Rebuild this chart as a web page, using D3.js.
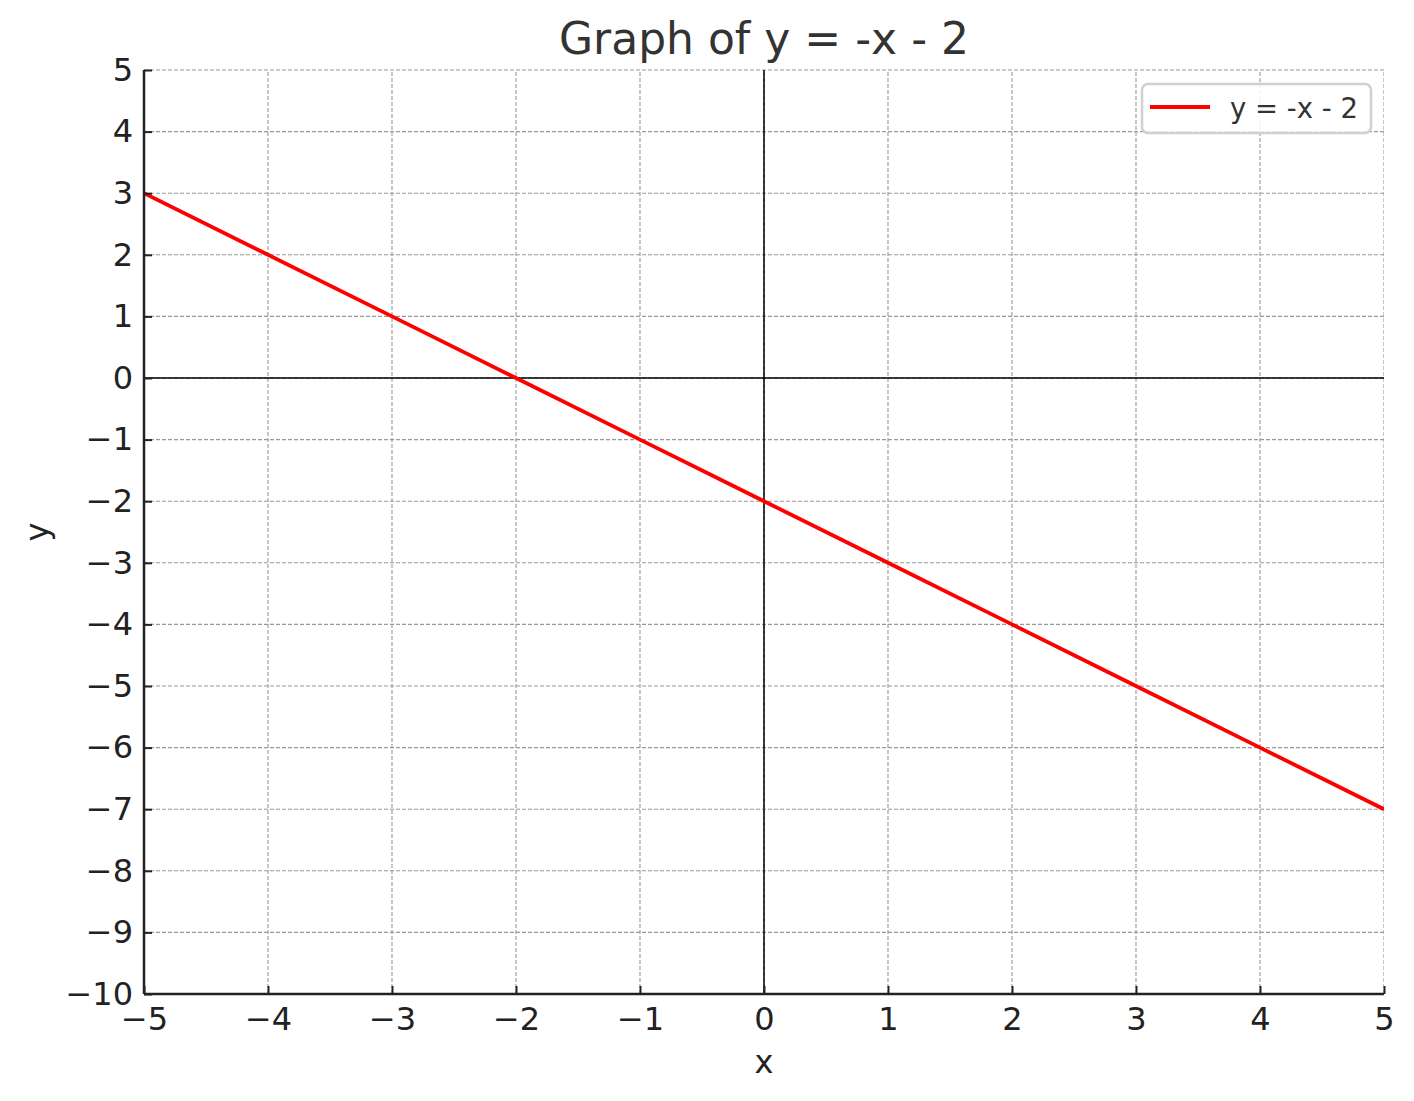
<!DOCTYPE html>
<html>
<head>
<meta charset="utf-8">
<script src="https://cdn.jsdelivr.net/npm/d3@7"></script>
<style>
  body { margin: 0; background: #fff; }
  svg { font-family: "DejaVu Sans", sans-serif; }
</style>
</head>
<body>
<div id="chart"></div>
<script>
// data
const xValues = [-5, -4, -3, -2, -1, 0, 1, 2, 3, 4, 5];
const yValues = [3, 2, 1, 0, -1, -2, -3, -4, -5, -6, -7];
const xTicks = [-5, -4, -3, -2, -1, 0, 1, 2, 3, 4, 5];
const yTicks = [5, 4, 3, 2, 1, 0, -1, -2, -3, -4, -5, -6, -7, -8, -9, -10];
const seriesName = "y = -x - 2";
const titleText = "Graph of y = -x - 2";

let width = 1414, height = 1101;
let margin = { top: 70, right: 30, bottom: 107, left: 144 };

let svg = d3.select('#chart').append('svg')
  .attr('width', width)
  .attr('height', height);

// scales
let xScale = d3.scaleLinear()
  .domain([-5, 5])
  .range([margin.left, width - margin.right]);

let yScale = d3.scaleLinear()
  .domain([-10, 5])
  .range([height - margin.bottom, margin.top]);

// clip for the plot area
svg.append('clipPath').attr('id', 'plotclip')
  .append('rect')
  .attr('x', margin.left)
  .attr('y', margin.top - 1)
  .attr('width', width - margin.left - margin.right)
  .attr('height', height - margin.top - margin.bottom + 1);

let plot = svg.append('g').attr('clip-path', 'url(#plotclip)');

// dashed grid
plot.selectAll('.vgrid')
  .data(xTicks)
  .enter().append('line')
  .attr('x1', d => xScale(d)).attr('x2', d => xScale(d))
  .attr('y1', yScale(-10)).attr('y2', yScale(5))
  .attr('stroke', '#999')
  .attr('stroke-width', 1.1)
  .attr('stroke-dasharray', '4,2');

plot.selectAll('.hgrid')
  .data(yTicks)
  .enter().append('line')
  .attr('x1', xScale(-5)).attr('x2', xScale(5))
  .attr('y1', d => yScale(d)).attr('y2', d => yScale(d))
  .attr('stroke', '#999')
  .attr('stroke-width', 1.1)
  .attr('stroke-dasharray', '4,2');

// zero lines
plot.append('line')
  .attr('x1', xScale(-5)).attr('x2', xScale(5))
  .attr('y1', yScale(0)).attr('y2', yScale(0))
  .attr('stroke', '#000').attr('stroke-width', 1.5);
plot.append('line')
  .attr('x1', xScale(0)).attr('x2', xScale(0))
  .attr('y1', yScale(-10)).attr('y2', yScale(5))
  .attr('stroke', '#000').attr('stroke-width', 1.5);

// the line
let points = xValues.map((x, i) => [x, yValues[i]]);
plot.append('path')
  .datum(points)
  .attr('fill', 'none')
  .attr('stroke', '#ff0000')
  .attr('stroke-width', 3.8)
  .attr('d', d3.line().x(d => xScale(d[0])).y(d => yScale(d[1])));

// axes, ticks pointing inward
let xAxis = svg.append('g')
  .attr('transform', `translate(0, ${height - margin.bottom})`)
  .call(d3.axisTop(xScale).tickValues(xTicks).tickSize(8).tickPadding(-21)
        .tickFormat(d => d3.format('')(d).replace('-', '\u2212')));

let yAxis = svg.append('g')
  .attr('transform', `translate(${margin.left}, 0)`)
  .call(d3.axisRight(yScale).tickValues(yTicks).tickSize(8).tickPadding(-19)
        .tickFormat(d => d3.format('')(d).replace('-', '\u2212')));

[xAxis, yAxis].forEach(ax => {
  ax.select('.domain').attr('stroke', '#222').attr('stroke-width', 2.5);
  ax.selectAll('.tick line').attr('stroke', '#222').attr('stroke-width', 2);
  ax.selectAll('.tick text')
    .attr('fill', '#222')
    .style('font-size', '32px')
    .style('font-family', '"DejaVu Sans", sans-serif');
});
// d3 draws outer ticks on the domain path; remove them
xAxis.select('.domain').attr('d', `M${xScale(-5)},0H${xScale(5)}`);
yAxis.select('.domain').attr('d', `M0,${yScale(-10)}V${yScale(5)}`);
xAxis.selectAll('.tick text').attr('dy', '0.71em');
yAxis.selectAll('.tick text').attr('text-anchor', 'end');

// axis labels
svg.append('text')
  .attr('x', (xScale(-5) + xScale(5)) / 2)
  .attr('y', 1073)
  .attr('text-anchor', 'middle')
  .attr('fill', '#222')
  .style('font-size', '32px')
  .text('x');

svg.append('text')
  .attr('transform', `translate(48, ${(yScale(-10) + yScale(5)) / 2}) rotate(-90)`)
  .attr('text-anchor', 'middle')
  .attr('fill', '#222')
  .style('font-size', '32px')
  .text('y');

// title
svg.append('text')
  .attr('x', (xScale(-5) + xScale(5)) / 2)
  .attr('y', 54)
  .attr('text-anchor', 'middle')
  .attr('fill', '#333')
  .style('font-size', '44px')
  .text(titleText);

// legend
const legend = svg.append('g').attr('transform', 'translate(1142, 84)');
legend.append('rect')
  .attr('width', 229).attr('height', 49)
  .attr('rx', 6)
  .attr('fill', 'white').attr('fill-opacity', 0.85)
  .attr('stroke', '#d0d0d0').attr('stroke-width', 2.5);
legend.append('line')
  .attr('x1', 8).attr('x2', 68)
  .attr('y1', 23).attr('y2', 23)
  .attr('stroke', '#ff0000').attr('stroke-width', 3.8);
legend.append('text')
  .attr('x', 88).attr('y', 34)
  .attr('fill', '#333')
  .style('font-size', '27.5px')
  .text(seriesName);
</script>
</body>
</html>
